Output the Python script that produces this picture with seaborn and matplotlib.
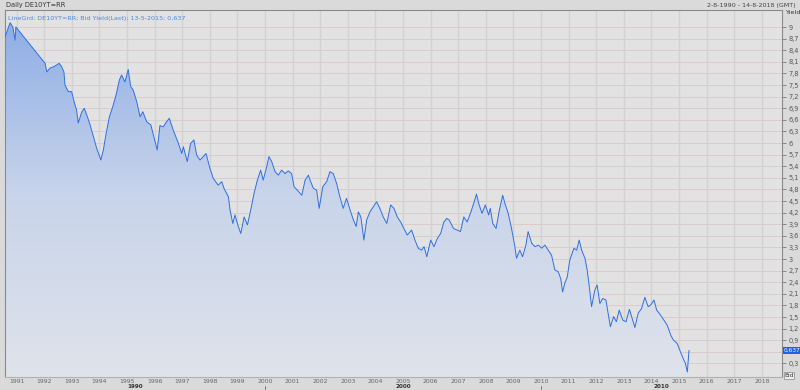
import numpy as np
import pandas as pd
import matplotlib
matplotlib.use("Agg")
import matplotlib.pyplot as plt
from matplotlib.colors import LinearSegmentedColormap
from matplotlib.patches import PathPatch
import seaborn as sns

# ---- data (decimal year, bid yield %) ----
years = [1990.58, 1990.76, 1990.86, 1990.94, 1990.97, 1992.03, 1992.09, 1992.21, 1992.33, 1992.54,
         1992.63, 1992.71, 1992.75, 1992.87, 1992.99, 1993.08, 1993.17, 1993.23, 1993.36, 1993.45,
         1993.56, 1993.66, 1993.78, 1993.90, 1994.05, 1994.14, 1994.24, 1994.36, 1994.48, 1994.60,
         1994.72, 1994.80, 1994.92, 1995.04, 1995.13, 1995.22, 1995.35, 1995.47, 1995.57, 1995.71,
         1995.86, 1995.97, 1996.09, 1996.19, 1996.31, 1996.43, 1996.53, 1996.67, 1996.86, 1996.98,
         1997.04, 1997.18, 1997.30, 1997.42, 1997.52, 1997.64, 1997.76, 1997.86, 1998.00, 1998.12,
         1998.30, 1998.43, 1998.51, 1998.67, 1998.73, 1998.83, 1998.91, 1999.03, 1999.12, 1999.24,
         1999.36, 1999.48, 1999.60, 1999.72, 1999.84, 1999.93, 2000.06, 2000.14, 2000.24, 2000.36,
         2000.48, 2000.60, 2000.72, 2000.84, 2000.96, 2001.05, 2001.17, 2001.33, 2001.45, 2001.57,
         2001.63, 2001.75, 2001.87, 2001.96, 2002.09, 2002.23, 2002.35, 2002.47, 2002.59, 2002.71,
         2002.83, 2002.95, 2003.08, 2003.20, 2003.30, 2003.38, 2003.47, 2003.58, 2003.68, 2003.80,
         2003.92, 2004.04, 2004.16, 2004.28, 2004.41, 2004.55, 2004.67, 2004.79, 2004.91, 2005.03,
         2005.15, 2005.31, 2005.43, 2005.55, 2005.67, 2005.76, 2005.86, 2006.00, 2006.12, 2006.24,
         2006.36, 2006.48, 2006.58, 2006.67, 2006.83, 2006.96, 2007.08, 2007.20, 2007.32, 2007.44,
         2007.56, 2007.66, 2007.74, 2007.86, 2007.98, 2008.10, 2008.16, 2008.25, 2008.37, 2008.49,
         2008.61, 2008.69, 2008.81, 2008.93, 2009.05, 2009.11, 2009.23, 2009.33, 2009.45, 2009.53,
         2009.66, 2009.78, 2009.90, 2010.02, 2010.14, 2010.26, 2010.38, 2010.50, 2010.62, 2010.71,
         2010.78, 2010.86, 2010.95, 2011.04, 2011.19, 2011.29, 2011.38, 2011.47, 2011.59, 2011.67,
         2011.74, 2011.83, 2011.95, 2012.03, 2012.13, 2012.23, 2012.35, 2012.43, 2012.51, 2012.63,
         2012.73, 2012.83, 2012.96, 2013.08, 2013.20, 2013.32, 2013.40, 2013.52, 2013.64, 2013.76,
         2013.88, 2013.97, 2014.09, 2014.19, 2014.33, 2014.45, 2014.57, 2014.70, 2014.79, 2014.93,
         2015.05, 2015.17, 2015.23, 2015.30, 2015.36]
yields = [8.75, 9.11, 9.00, 8.66, 9.00, 8.06, 7.84, 7.94, 7.97, 8.06,
          7.97, 7.84, 7.50, 7.33, 7.33, 7.07, 6.85, 6.52, 6.81, 6.90,
          6.68, 6.47, 6.16, 5.86, 5.56, 5.82, 6.25, 6.68, 6.94, 7.24,
          7.63, 7.76, 7.58, 7.90, 7.46, 7.37, 7.07, 6.68, 6.81, 6.55,
          6.47, 6.16, 5.82, 6.45, 6.42, 6.55, 6.64, 6.34, 5.99, 5.73,
          5.90, 5.52, 5.99, 6.08, 5.69, 5.56, 5.65, 5.73, 5.35, 5.09,
          4.91, 5.00, 4.83, 4.61, 4.27, 3.92, 4.14, 3.84, 3.66, 4.09,
          3.88, 4.27, 4.70, 5.04, 5.30, 5.04, 5.39, 5.65, 5.52, 5.26,
          5.17, 5.30, 5.21, 5.28, 5.21, 4.87, 4.78, 4.65, 5.04, 5.17,
          5.04, 4.83, 4.78, 4.31, 4.87, 5.00, 5.26, 5.21, 4.96, 4.61,
          4.31, 4.57, 4.27, 4.01, 3.84, 4.22, 4.09, 3.49, 4.01, 4.22,
          4.35, 4.48, 4.31, 4.09, 3.92, 4.40, 4.31, 4.09, 3.96, 3.79,
          3.62, 3.75, 3.49, 3.28, 3.23, 3.32, 3.06, 3.49, 3.32, 3.53,
          3.66, 3.96, 4.05, 4.01, 3.79, 3.75, 3.71, 4.09, 3.96, 4.18,
          4.44, 4.68, 4.44, 4.18, 4.40, 4.14, 4.31, 3.92, 3.79, 4.27,
          4.65, 4.44, 4.18, 3.79, 3.32, 3.02, 3.23, 3.06, 3.36, 3.71,
          3.41, 3.32, 3.36, 3.28, 3.36, 3.23, 3.10, 2.72, 2.67, 2.50,
          2.15, 2.37, 2.54, 2.97, 3.28, 3.23, 3.49, 3.23, 3.02, 2.72,
          2.33, 1.77, 2.20, 2.33, 1.85, 1.98, 1.94, 1.60, 1.25, 1.51,
          1.38, 1.68, 1.42, 1.38, 1.70, 1.42, 1.23, 1.60, 1.72, 2.01,
          1.77, 1.81, 1.94, 1.68, 1.55, 1.42, 1.29, 1.03, 0.91, 0.82,
          0.60, 0.39, 0.30, 0.08, 0.637]

ytick_values = [round(0.3 * i, 1) for i in range(1, 31)]
year_ticks = list(range(1991, 2019))
decade_labels = ["1990", "2000", "2010"]
decade_spans = [(1990.58, 2000.0), (2000.0, 2010.0), (2010.0, 2018.73)]

title_left = "Daily DE10YT=RR"
title_right = "2-8-1990 - 14-8-2018 (GMT)"
legend_text = "LineGrd; DE10YT=RR; Bid Yield(Last); 13-5-2015; 0,637"
last_value = 0.637
last_label = "0,637"

df = pd.DataFrame({"year": years, "yield": yields})

sns.set_style("white")
plt.rcParams["font.family"] = ["DejaVu Sans"]

BG = "#e2e2e2"
fig = plt.figure(figsize=(8, 3.9), dpi=100, facecolor="#dadada")
ax = fig.add_axes([5 / 800, 1 - 377 / 390, 777 / 800, 367 / 390])
ax.set_facecolor(BG)

x0, x1 = 1990.576, 2018.73
y0, y1 = -0.05, 9.44
ax.set_xlim(x0, x1)
ax.set_ylim(y0, y1)

# gridlines
for v in ytick_values:
    ax.axhline(v, color="#dacbce", lw=0.7, zorder=0)
for yr in year_ticks:
    ax.axvline(yr, color="#d2d2d2", lw=1.0, zorder=0)

# gradient fill under the curve
cmap = LinearSegmentedColormap.from_list("g", ["#dfe3eb", "#c8d4ea", "#8aabe6"])
grad = np.linspace(0, 1, 256).reshape(-1, 1)
im = ax.imshow(grad, extent=[x0, x1, y0, y1], origin="lower", aspect="auto",
               cmap=cmap, zorder=1)
poly = ax.fill_between(df["year"], y0, df["yield"], color="none", lw=0)
clip = PathPatch(poly.get_paths()[0], transform=ax.transData, facecolor="none", edgecolor="none")
ax.add_patch(clip)
im.set_clip_path(clip)

sns.lineplot(data=df, x="year", y="yield", ax=ax, color="#2f6fe4", lw=0.7, zorder=3)
ax.set_xlim(x0, x1)
ax.set_ylim(y0, y1)
ax.set_xlabel("")
ax.set_ylabel("")

# axes styling
for s in ["top", "left"]:
    ax.spines[s].set_color("#8a8a8a")
    ax.spines[s].set_linewidth(0.8)
ax.spines["bottom"].set_color("#b0b0b0")
ax.spines["right"].set_color("#8a8a8a")

ax.yaxis.tick_right()
ax.set_yticks(ytick_values)
ylabels = []
for v in ytick_values:
    lab = ("%g" % v).replace(".", ",")
    if abs(v - last_value) < 0.15:
        lab = ""  # hidden behind the last-value box in the reference
    ylabels.append(lab)
ax.set_yticklabels(ylabels, fontsize=4.8, color="#555555")
ax.tick_params(axis="y", direction="out", length=3, width=0.6, color="#777777", pad=1.5)

ax.set_xticks(year_ticks)
ax.set_xticklabels([str(y) for y in year_ticks], fontsize=4.4, color="#666666")
ax.tick_params(axis="x", length=0, pad=1.2)

# decade labels (second row)
for lab, (a, b) in zip(decade_labels, decade_spans):
    xd = ax.transData.transform(((a + b) / 2, 0))[0] / fig.bbox.width
    fig.text(xd, 1.2 / 390, lab, ha="center", va="bottom", fontsize=4.1,
             color="#333333", fontweight="bold")
for yr in [2000, 2010]:
    ax.plot([yr, yr], [-0.024, -0.034], transform=ax.get_xaxis_transform(),
            color="#666666", lw=0.6, clip_on=False)

# header texts
fig.text(6 / 800, 1 - 5 / 390, title_left, fontsize=4.8, color="#333333", va="center", ha="left")
fig.text(796 / 800, 1 - 5 / 390, title_right, fontsize=4.6, color="#444444", va="center", ha="right")
ax.text(0.004, 0.984, legend_text, transform=ax.transAxes, fontsize=4.6,
        color="#4f86dd", va="top", ha="left", zorder=5)
fig.text(785 / 800, 1 - 13 / 390, "Yield", fontsize=4.6, color="#333333", va="center", ha="left")

# last value box
ax.text(1.002, last_value, last_label, transform=ax.get_yaxis_transform(), fontsize=4.2,
        color="white", va="center", ha="left",
        bbox=dict(boxstyle="square,pad=0.12", fc="#1e62e8", ec="none"), clip_on=False)
ax.text(1.003, 0.004, "Bid", transform=ax.transAxes, fontsize=4.2,
        color="#333333", va="center", ha="left",
        bbox=dict(boxstyle="square,pad=0.12", fc="#eeeeee", ec="#888888", lw=0.5), clip_on=False)

fig.savefig("out.png", dpi=100, facecolor=fig.get_facecolor())
